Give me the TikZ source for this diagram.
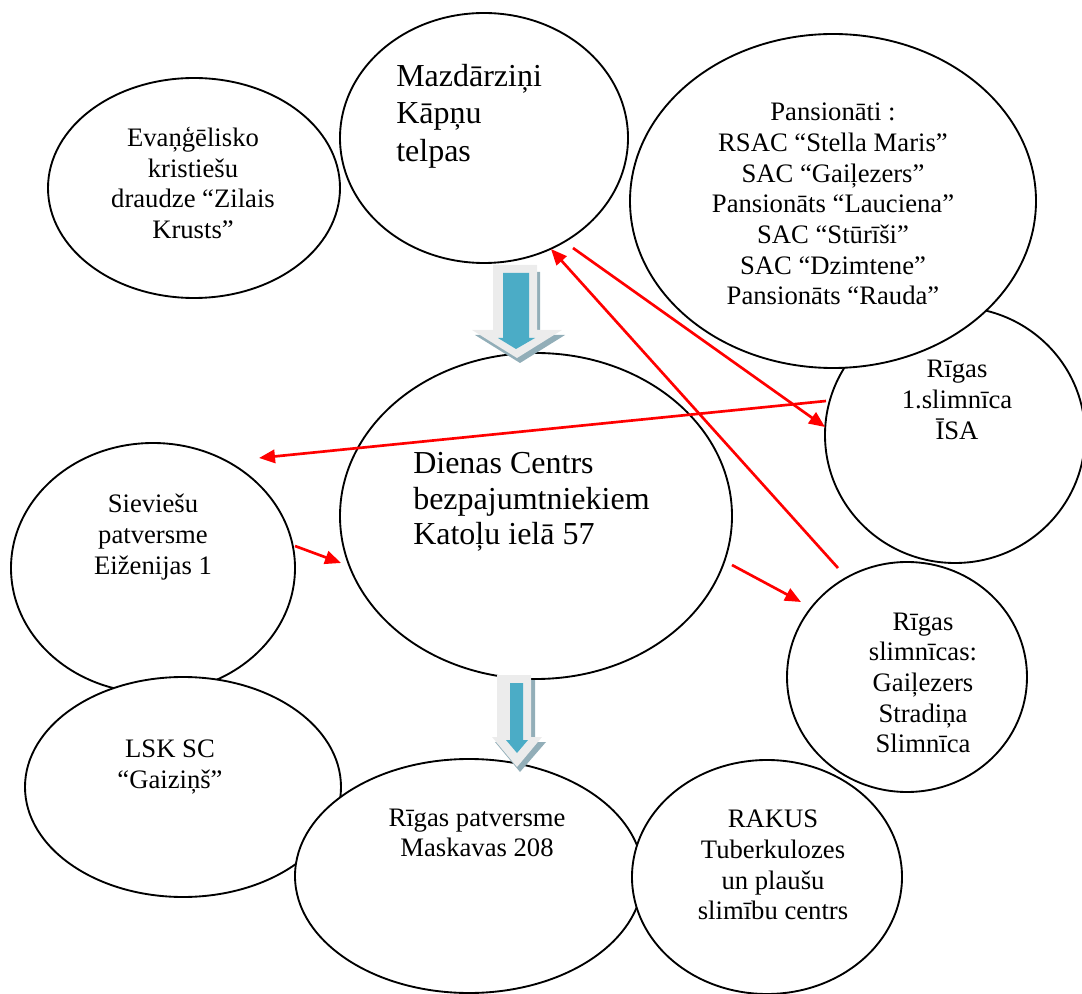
\documentclass[tikz,border=0pt]{standalone}
\usepackage{fontspec}
\setmainfont{Liberation Serif}
\usetikzlibrary{shapes.geometric,arrows.meta}

\definecolor{arrblue}{RGB}{75,172,198}
\definecolor{arrshade}{RGB}{146,174,184}
\definecolor{arrlight}{RGB}{236,236,236}

\begin{document}
\begin{tikzpicture}[x=0.75pt,y=0.75pt,yscale=-1,xscale=1,
  bubble/.style={draw, ellipse, line width=1.4pt, inner sep=0pt},
  txt/.style={align=center, inner sep=0pt, font=\fontsize{20}{23}\selectfont},
  bigtxt/.style={align=left, anchor=west, inner sep=0pt, font=\fontsize{24}{26.5}\selectfont},
  redarr/.style={draw=red, line width=2pt, -{Triangle[length=12pt,width=10pt]}}]
\useasboundingbox (0,0) rectangle (1082,994);

%Shape: Ellipse
\draw (194,188) node [bubble, minimum width=219pt, minimum height=165pt] (evang) {};
%Shape: Ellipse
\draw (484,138) node [bubble, minimum width=216pt, minimum height=187.5pt] (mazd) {};
%Shape: Ellipse
\draw (955,435) node [bubble, minimum width=195pt, minimum height=192pt] (riga1) {};
%Shape: Ellipse
\draw (833,201) node [bubble, fill=white, minimum width=304.5pt, minimum height=250.5pt] (pans) {};
%Shape: Ellipse
\draw (536,516) node [bubble, minimum width=294pt, minimum height=244.5pt] (dienas) {};
%Shape: Ellipse
\draw (153,568) node [bubble, minimum width=213pt, minimum height=187.5pt] (siev) {};
%Shape: Ellipse
\draw (183,787) node [bubble, fill=white, minimum width=237pt, minimum height=165pt] (lsk) {};
%Shape: Ellipse
\draw (469,876) node [bubble, fill=white, minimum width=261pt, minimum height=175.5pt] (patv) {};
%Shape: Ellipse
\draw (767,877) node [bubble, fill=white, minimum width=202.5pt, minimum height=175.5pt] (rakus) {};
%Shape: Ellipse
\draw (907,677) node [bubble, minimum width=180pt, minimum height=172.5pt] (slim) {};

%Shape: Down Arrow
\fill [arrshade] (496,272) -- (540,272) -- (540,335) -- (565,335) -- (520,363) -- (475,335) -- (496,335) -- cycle ;
\fill [arrlight] (493,265) -- (537,265) -- (537,330) -- (562,330) -- (517,358) -- (472,330) -- (493,330) -- cycle ;
\fill [arrblue] (503,273) -- (529,273) -- (529,338) -- (535,338) -- (516,349) -- (498,338) -- (503,338) -- cycle ;
%Shape: Down Arrow
\fill [arrshade] (500,680) -- (535,680) -- (535,742) -- (546,742) -- (520,772) -- (495,742) -- (500,742) -- cycle ;
\fill [arrlight] (497,675) -- (531,675) -- (531,737) -- (542,737) -- (517,767) -- (492,737) -- (497,737) -- cycle ;
\fill [arrblue] (510,683) -- (523,683) -- (523,740) -- (528,740) -- (517,753) -- (506,740) -- (510,740) -- cycle ;

%Straight Lines
\coordinate (a1) at (826,401) ; \coordinate (a2) at (259,458) ;
\coordinate (b1) at (573,248) ; \coordinate (b2) at (825,427) ;
\coordinate (c1) at (838,568) ; \coordinate (c2) at (551,249) ;
\coordinate (d1) at (295,546) ; \coordinate (d2) at (341,563) ;
\coordinate (e1) at (732,565) ; \coordinate (e2) at (801,602) ;
\draw [redarr] (a1) -- (a2) ;
\draw [redarr] (b1) -- (b2) ;
\draw [redarr] (c1) -- (c2) ;
\draw [redarr] (d1) -- (d2) ;
\draw [redarr] (e1) -- (e2) ;

% Text Node
\draw (193,183) node [txt] (evangtxt) {Evaņģēlisko\\kristiešu\\draudze “Zilais\\Krusts”};
% Text Node
\draw (396,116) node [bigtxt, font=\fontsize{24}{28}\selectfont] (mazdtxt) {Mazdārziņi\\Kāpņu\\telpas};
% Text Node
\draw (833,204) node [txt] (panstxt) {Pansionāti :\\RSAC “Stella Maris”\\SAC “Gaiļezers”\\Pansionāts “Lauciena”\\SAC “Stūrīši”\\SAC “Dzimtene”\\Pansionāts “Rauda”};
% Text Node
\draw (957,400) node [txt] (riga1txt) {Rīgas\\1.slimnīca\\ĪSA};
% Text Node
\draw (413,502) node [bigtxt] (dienastxt) {Dienas Centrs\\bezpajumtniekiem\\Katoļu ielā 57};
% Text Node
\draw (153,537) node [txt] (sievtxt) {Sieviešu\\patversme\\Eiženijas 1};
% Text Node
\draw (923,683) node [txt] (slimtxt) {Rīgas\\slimnīcas:\\Gaiļezers\\Stradiņa\\Slimnīca};
% Text Node
\draw (170,767) node [txt] (lsktxt) {LSK SC\\“Gaiziņš”};
% Text Node
\draw (477,833) node [txt] (patvtxt) {Rīgas patversme\\Maskavas 208};
% Text Node
\draw (773,865) node [txt] (rakustxt) {RAKUS\\Tuberkulozes\\un plaušu\\slimību centrs};

\end{tikzpicture}
\end{document}
